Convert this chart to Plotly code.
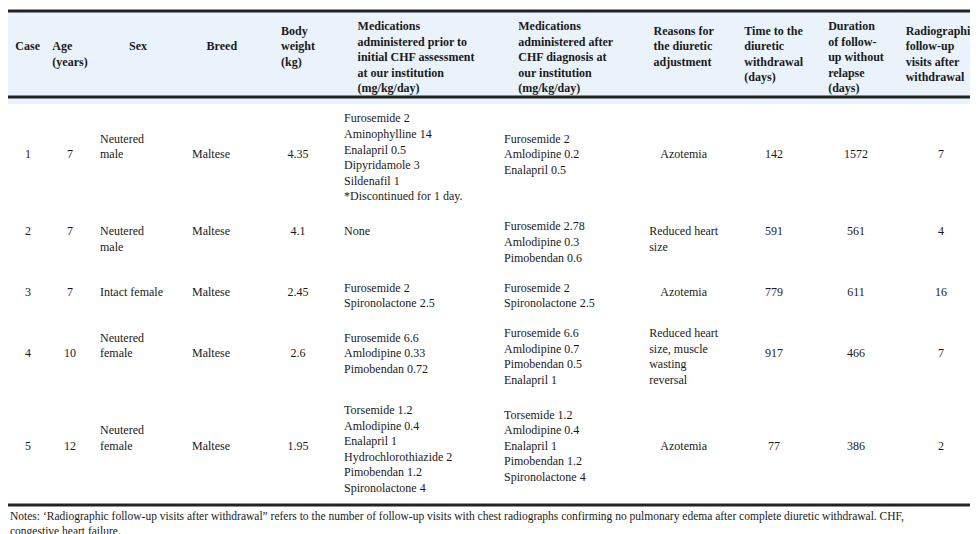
import plotly.graph_objects as go

headers = ["Case", "Age<br>(years)", "Sex", "Breed", "Body<br>weight<br>(kg)",
           "Medications<br>administered prior to<br>initial CHF assessment<br>at our institution<br>(mg/kg/day)",
           "Medications<br>administered after<br>CHF diagnosis at<br>our institution<br>(mg/kg/day)",
           "Reasons for<br>the diuretic<br>adjustment",
           "Time to the<br>diuretic<br>withdrawal<br>(days)",
           "Duration<br>of follow-<br>up without<br>relapse<br>(days)",
           "Radiographic<br>follow-up<br>visits after<br>withdrawal"]

case = ["1", "2", "3", "4", "5", "6"]
age = ["7", "7", "7", "10", "12", "10"]
sex = ["Neutered<br>male", "Neutered<br>male", "Intact female", "Neutered<br>female", "Neutered<br>female", "Neutered<br>female"]
breed = ["Maltese", "Maltese", "Maltese", "Maltese", "Maltese", "Toy<br>Poodle"]
weight = ["4.35", "4.1", "2.45", "2.6", "1.95", "3.75"]
prior = ["Furosemide 2<br>Aminophylline 14<br>Enalapril 0.5<br>Dipyridamole 3<br>Sildenafil 1<br>*Discontinued for 1 day.",
         "None",
         "Furosemide 2<br>Spironolactone 2.5",
         "Furosemide 6.6<br>Amlodipine 0.33<br>Pimobendan 0.72",
         "Torsemide 1.2<br>Amlodipine 0.4<br>Enalapril 1<br>Hydrochlorothiazide 2<br>Pimobendan 1.2<br>Spironolactone 4",
         "Not recorded"]
after = ["Furosemide 2<br>Amlodipine 0.2<br>Enalapril 0.5",
         "Furosemide 2.78<br>Amlodipine 0.3<br>Pimobendan 0.6",
         "Furosemide 2<br>Spironolactone 2.5",
         "Furosemide 6.6<br>Amlodipine 0.7<br>Pimobendan 0.5<br>Enalapril 1",
         "Torsemide 1.2<br>Amlodipine 0.4<br>Enalapril 1<br>Pimobendan 1.2<br>Spironolactone 4",
         "Furosemide 9<br>Pimobendan 0.5"]
reason = ["Azotemia", "Reduced heart<br>size", "Azotemia",
          "Reduced heart<br>size, muscle<br>wasting<br>reversal", "Azotemia", "Dehydration"]
time_w = ["142", "591", "779", "917", "77", "759"]
duration = ["1572", "561", "611", "466", "386", "578"]
visits = ["7", "4", "16", "7", "2", "12"]
row_lines = [6, 3, 2, 4, 6, 2]
note = ("Notes: ‘Radiographic follow-up visits after withdrawal” refers to the number of follow-up visits with chest radiographs "
        "confirming no pulmonary edema after complete diuretic withdrawal. CHF,<br>congestive heart failure.")

FONT = "Times New Roman, Liberation Serif, DejaVu Serif, serif"

def pad(t, n):
    k = t.count("<br>") + 1
    top = (n - k + 1) // 2
    bot = n - k - top
    return "<br>" * top + t + "<br> " * bot

columns = [case, age, sex, breed, weight, prior, after, reason, time_w, duration, visits]
cells = [[pad(v, n) for v, n in zip(col, row_lines)] for col in columns]
hdr = ["<b>" + pad(h, 5) + "</b>" for h in headers]
widths = [40, 44, 92, 76, 76, 160, 140, 96, 84, 80, 90]
align = ["center", "center", "left", "left", "center", "left", "left", "center", "center", "center", "center"]

hdr_px = 86
fig = go.Figure(go.Table(
    columnwidth=widths,
    header=dict(values=hdr, fill_color="#eaf3fb", line_color="#eaf3fb", align="center",
                font=dict(family=FONT, size=12, color="#1a1a1a"), height=16),
    cells=dict(values=cells, fill_color="white", line_color="white", align=align,
               font=dict(family=FONT, size=12, color="#1a1a1a"), height=16),
    domain=dict(x=[0, 1], y=[0, 1]),
))
plot_h = 534 - 3 - 37
fig.update_layout(
    width=978, height=534, margin=dict(l=0, r=0, t=3, b=37), paper_bgcolor="white",
    shapes=[
        dict(type="line", xref="paper", yref="paper", x0=0, x1=1, y0=1.0, y1=1.0, line=dict(color="#222", width=3)),
        dict(type="line", xref="paper", yref="paper", x0=0, x1=1, y0=1 - hdr_px / plot_h, y1=1 - hdr_px / plot_h,
             line=dict(color="#222", width=3)),
        dict(type="line", xref="paper", yref="paper", x0=0, x1=1, y0=0, y1=0, line=dict(color="#222", width=3)),
    ],
    annotations=[dict(text=note, xref="paper", yref="paper", x=0, y=0, yshift=-3, xanchor="left", yanchor="top",
                      showarrow=False, align="left", font=dict(family=FONT, size=11.5, color="#1a1a1a"))],
)
fig.write_html("out.html")
